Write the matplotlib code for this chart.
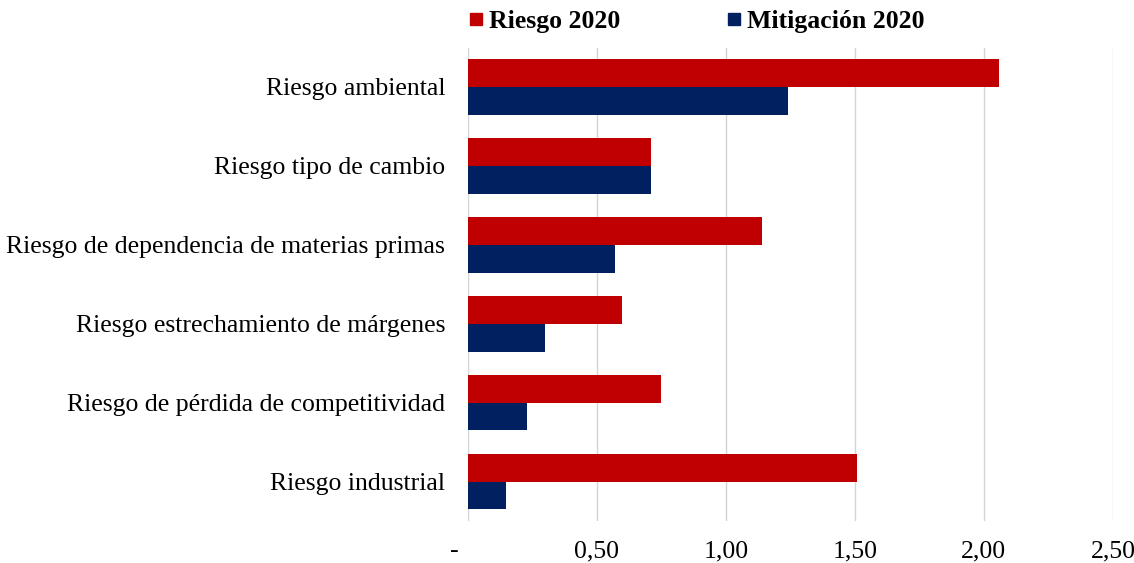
import matplotlib
matplotlib.use('Agg')
import matplotlib.pyplot as plt
from matplotlib.lines import Line2D
import numpy as np

# Datos
categorias = ['Riesgo ambiental', 'Riesgo tipo de cambio',
              'Riesgo de dependencia de materias primas',
              'Riesgo estrechamiento de márgenes',
              'Riesgo de pérdida de competitividad',
              'Riesgo industrial']
riesgo_2020 = [2.06, 0.71, 1.14, 0.60, 0.75, 1.51]
mitigacion_2020 = [1.24, 0.71, 0.57, 0.30, 0.23, 0.15]
ticks_x = [0, 0.5, 1.0, 1.5, 2.0, 2.5]
ticks_lbl = ['-    ', '0,50', '1,00', '1,50', '2,00', '2,50']

rojo = '#C00000'
azul = '#002060'

plt.rcParams['font.family'] = ['Liberation Serif', 'DejaVu Serif']

fig = plt.figure(figsize=(11.34, 5.63), dpi=100)
ax = fig.add_axes([0.4123, 0.0746, 0.5692, 0.841])

y = np.arange(len(categorias))
h = 0.353
ax.barh(y - h / 2, riesgo_2020, height=h, color=rojo, zorder=3)
ax.barh(y + h / 2, mitigacion_2020, height=h, color=azul, zorder=3)

ax.set_ylim(len(categorias) - 0.5, -0.5)
ax.set_xlim(0, 2.5)
ax.set_yticks(y)
ax.set_yticklabels(categorias, fontsize=18.5)
ax.set_xticks(ticks_x)
ax.set_xticklabels(ticks_lbl, fontsize=18.5)
ax.tick_params(axis='both', length=0)
ax.tick_params(axis='x', pad=14)
ax.tick_params(axis='y', pad=16)
ax.grid(axis='x', color='#d4d4d4', linewidth=1, zorder=0)
for s in ax.spines.values():
    s.set_visible(False)

handles = [Line2D([], [], marker='s', linestyle='', color=rojo, markersize=9),
           Line2D([], [], marker='s', linestyle='', color=azul, markersize=9)]
fig.legend(handles, ['Riesgo 2020', 'Mitigación 2020'], loc='center',
           bbox_to_anchor=(0.613, 0.962), ncol=2, frameon=False,
           prop={'weight': 'bold', 'size': 18.5}, handletextpad=0.1,
           columnspacing=4.05, handlelength=0.8)

plt.savefig('out.png', dpi=100)
